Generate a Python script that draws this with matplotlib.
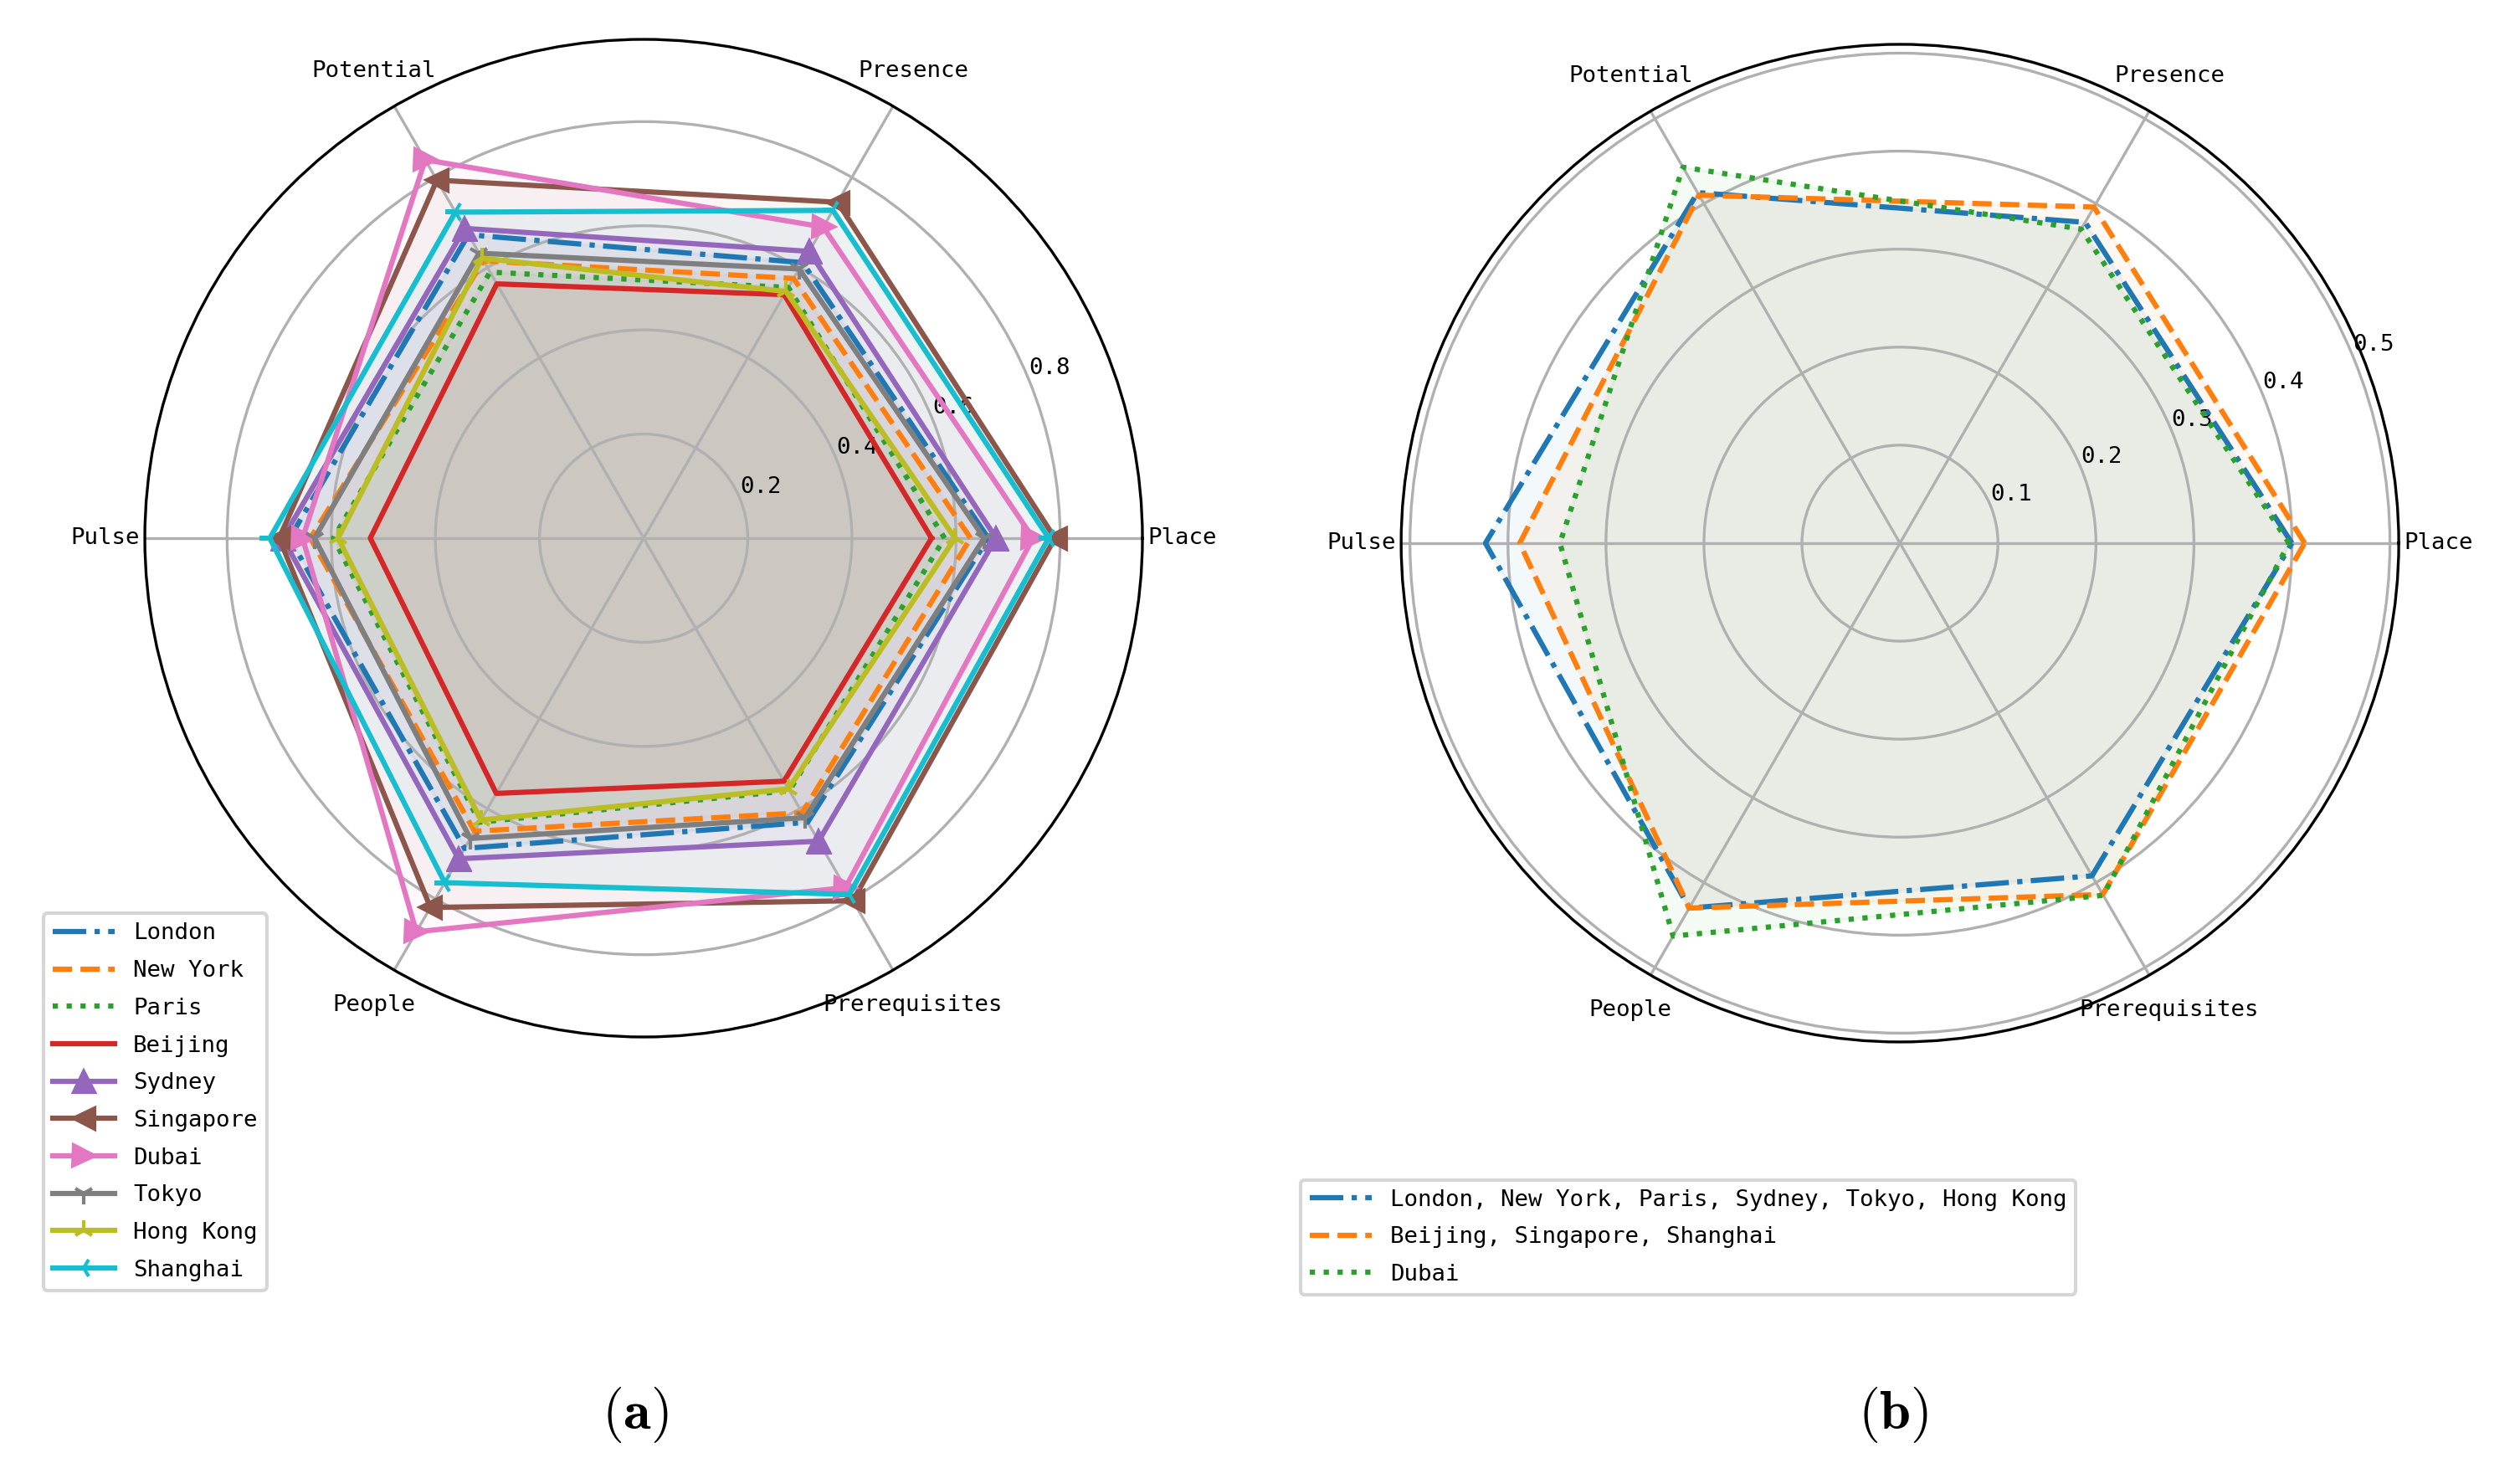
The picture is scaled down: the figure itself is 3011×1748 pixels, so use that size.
import matplotlib
matplotlib.use("Agg")
import matplotlib.pyplot as plt
import numpy as np

plt.rcParams['font.family'] = ['DejaVu Sans Mono']
plt.rcParams['font.size'] = 6.6
plt.rcParams['mathtext.fontset'] = 'cm'

# dimensions (counter-clockwise from 0 deg)
dims = ['Place', 'Presence', 'Potential', 'Pulse', 'People', 'Prerequisites']

# (a) per-city scores
cities = ['London', 'New York', 'Paris', 'Beijing', 'Sydney', 'Singapore',
          'Dubai', 'Tokyo', 'Hong Kong', 'Shanghai']
london = [0.662, 0.611, 0.673, 0.680, 0.688, 0.630]
new_york = [0.628, 0.576, 0.615, 0.640, 0.650, 0.609]
paris = [0.578, 0.556, 0.590, 0.596, 0.630, 0.560]
beijing = [0.553, 0.540, 0.564, 0.525, 0.566, 0.539]
sydney = [0.677, 0.636, 0.687, 0.693, 0.711, 0.672]
singapore = [0.790, 0.745, 0.794, 0.700, 0.819, 0.804]
dubai = [0.748, 0.690, 0.839, 0.655, 0.873, 0.775]
tokyo = [0.654, 0.597, 0.632, 0.632, 0.666, 0.620]
hong_kong = [0.598, 0.547, 0.621, 0.587, 0.625, 0.556]
shanghai = [0.778, 0.727, 0.723, 0.718, 0.764, 0.790]
city_vals = [london, new_york, paris, beijing, sydney, singapore,
             dubai, tokyo, hong_kong, shanghai]
city_styles = [('-.', None), ('--', None), (':', None), ('-', None),
               ('-', '^'), ('-', '<'), ('-', '>'), ('-', '1'), ('-', '2'), ('-', '3')]

# (b) grouped scores
groups = ['London, New York, Paris, Sydney, Tokyo, Hong Kong',
          'Beijing, Singapore, Shanghai',
          'Dubai']
group1 = [0.400, 0.378, 0.413, 0.423, 0.430, 0.392]
group2 = [0.413, 0.396, 0.410, 0.388, 0.430, 0.414]
group3 = [0.397, 0.370, 0.443, 0.347, 0.463, 0.415]
group_vals = [group1, group2, group3]
group_styles = ['-.', '--', ':']

theta = np.linspace(0, 2 * np.pi, len(dims), endpoint=False)
theta_c = np.append(theta, theta[0])


def closed(v):
    return np.append(v, v[0])


fig = plt.figure(figsize=(3011 / 300, 1748 / 300), dpi=300)

# ---- (a)
ax1 = fig.add_axes([0.05746, 0.2912, 0.3959, 0.6819], projection='polar')
for i, (name, v) in enumerate(zip(cities, city_vals)):
    ls, mk = city_styles[i]
    c = 'C%d' % i
    ax1.plot(theta_c, closed(v), linestyle=ls, marker=mk, color=c, lw=1.5,
             markevery=list(range(len(dims))), label=name)
    ax1.fill(theta_c, closed(v), color=c, alpha=0.05)
ax1.set_thetagrids(np.degrees(theta), dims)
ax1.tick_params(axis='x', pad=1)
ax1.set_rticks([0.2, 0.4, 0.6, 0.8])
ax1.set_ylim(0, 0.958)
fig.legend(*ax1.get_legend_handles_labels(), loc='lower left',
           bbox_to_anchor=(0.0172, 0.118), bbox_transform=fig.transFigure,
           handlelength=2.7, labelspacing=0.68, borderaxespad=0)

# ---- (b)
ax2 = fig.add_axes([0.556, 0.2878, 0.3959, 0.6819], projection='polar')
for i, (name, v) in enumerate(zip(groups, group_vals)):
    c = 'C%d' % i
    ax2.plot(theta_c, closed(v), linestyle=group_styles[i], color=c, lw=1.5, label=name)
    ax2.fill(theta_c, closed(v), color=c, alpha=0.05)
ax2.set_thetagrids(np.degrees(theta), dims)
ax2.tick_params(axis='x', pad=1)
ax2.set_rticks([0.1, 0.2, 0.3, 0.4, 0.5])
ax2.set_ylim(0, 0.509)
fig.legend(*ax2.get_legend_handles_labels(), loc='lower left',
           bbox_to_anchor=(0.516, 0.115), bbox_transform=fig.transFigure,
           handlelength=2.7, labelspacing=0.68, borderaxespad=0)

fig.text(0.2519, 0.0328, r'$\mathbf{(a)}$', fontsize=16, ha='center', va='center')
fig.text(0.7513, 0.0328, r'$\mathbf{(b)}$', fontsize=16, ha='center', va='center')

fig.savefig('out.png', dpi=300)
